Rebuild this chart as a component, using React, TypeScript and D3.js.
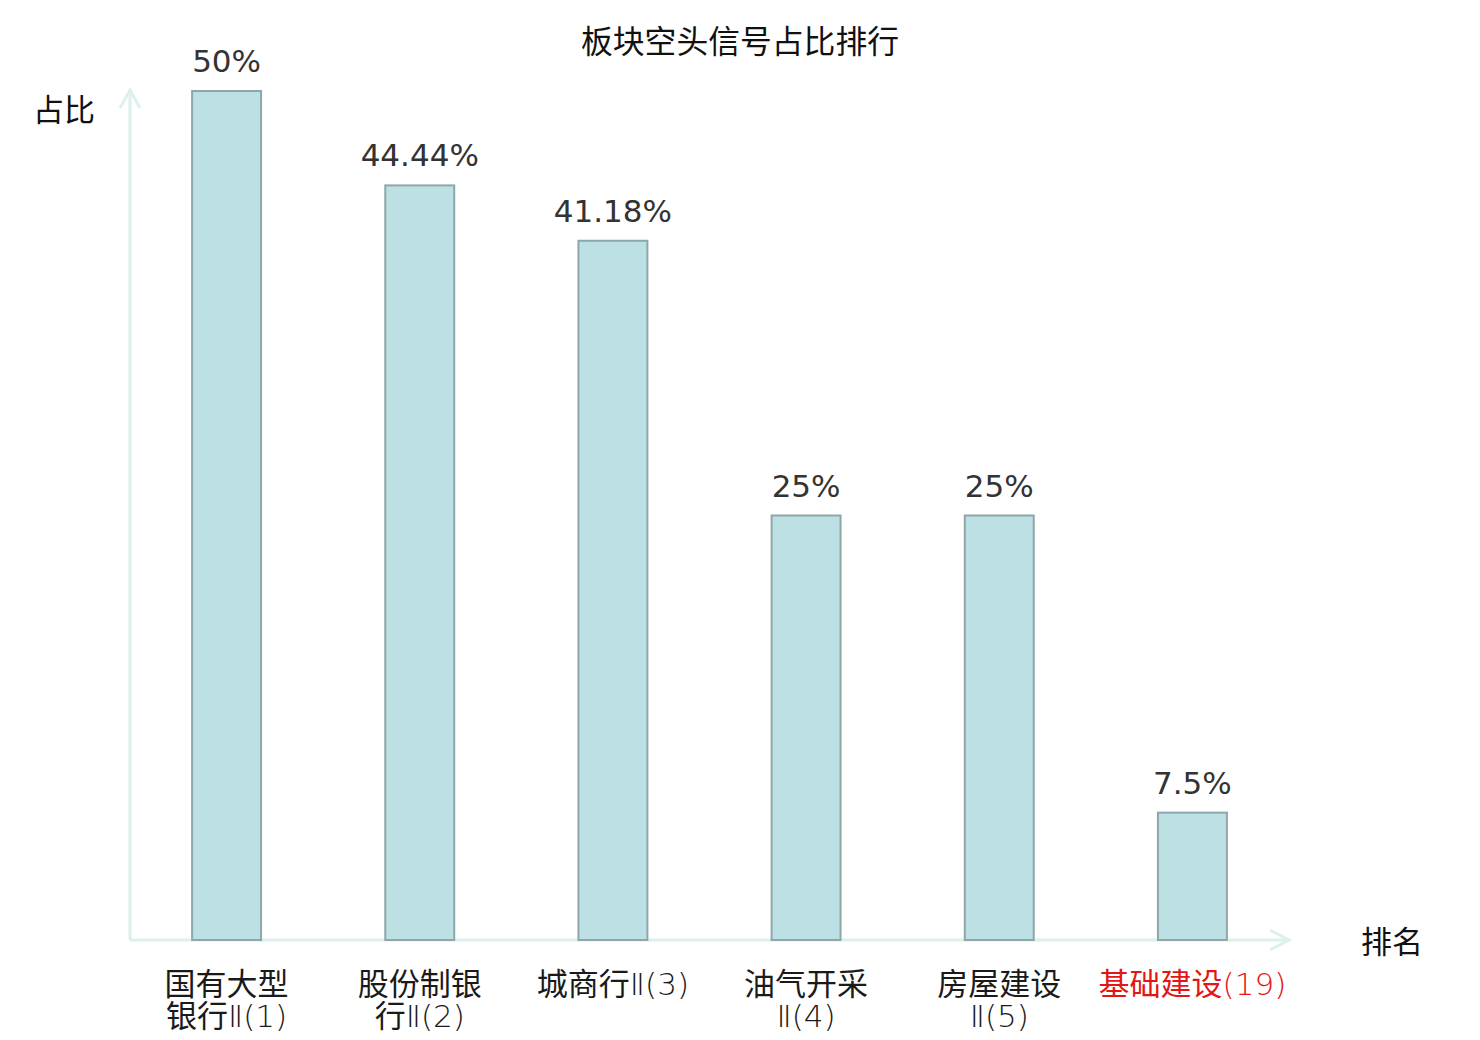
import { useEffect, useRef } from "react";
import * as d3 from "d3";

// chart data
const categories = ["国有大型银行Ⅱ(1)", "股份制银行Ⅱ(2)", "城商行Ⅱ(3)", "油气开采Ⅱ(4)", "房屋建设Ⅱ(5)", "基础建设(19)"];
const categoryLines = [
  ["国有大型", "银行Ⅱ(1)"],
  ["股份制银", "行Ⅱ(2)"],
  ["城商行Ⅱ(3)"],
  ["油气开采", "Ⅱ(4)"],
  ["房屋建设", "Ⅱ(5)"],
  ["基础建设(19)"],
];
const values = [50, 44.44, 41.18, 25, 25, 7.5];
const highlighted = ["基础建设(19)"];

const FONT = "'DejaVu Sans', 'Noto Sans CJK SC', sans-serif";
const CJK = "'Noto Sans CJK SC', sans-serif";

// split a label line into CJK / latin runs so each gets its own font
const runs = (s: string) => s.match(/[\u4e00-\u9fff]+|[^\u4e00-\u9fff]+/g) || [];

export default function App() {
  const svgRef = useRef<SVGSVGElement>(null);

  useEffect(() => {
    const svg = d3.select(svgRef.current);
    svg.selectAll("*").remove();

    const left = 130;
    const right = 1289;
    const bottom = 940;
    const top = 91;
    const axisColor = "#dcf1ee";

    const x = d3.scaleBand().domain(categories).range([left, right]).paddingInner(0).paddingOuter(0);
    const y = d3.scaleLinear().domain([0, 50]).range([bottom, top]);
    const barW = x.bandwidth() * 0.357;

    svg
      .append("text")
      .attr("x", 740)
      .attr("y", 53)
      .attr("text-anchor", "middle")
      .attr("font-family", CJK)
      .attr("font-size", 31.8)
      .attr("fill", "#111")
      .text("板块空头信号占比排行");

    // axes
    const axes = svg.append("g").attr("stroke", axisColor).attr("stroke-width", 3).attr("fill", "none");
    axes.append("line").attr("x1", left).attr("x2", left).attr("y1", bottom).attr("y2", 89);
    axes.append("polyline").attr("points", `${left - 10},108 ${left},90 ${left + 10},108`);
    axes.append("line").attr("x1", left).attr("x2", 1290).attr("y1", bottom).attr("y2", bottom);
    axes.append("polyline").attr("points", `1270,930 1289,${bottom} 1270,950`);

    svg
      .append("text")
      .attr("x", 33)
      .attr("y", 121)
      .attr("font-family", CJK)
      .attr("font-size", 31)
      .attr("fill", "#111")
      .text("占比");

    svg
      .append("text")
      .attr("x", 1361)
      .attr("y", 953)
      .attr("font-family", CJK)
      .attr("font-size", 31)
      .attr("fill", "#111")
      .text("排名");

    const cx = (c: string) => (x(c) || 0) + x.bandwidth() / 2;

    svg
      .append("g")
      .selectAll("rect")
      .data(values)
      .enter()
      .append("rect")
      .attr("x", (_, i) => cx(categories[i]) - barW / 2)
      .attr("y", (d) => y(d))
      .attr("width", barW)
      .attr("height", (d) => bottom - y(d))
      .attr("fill", "#bce0e3")
      .attr("stroke", "#8ea7a9")
      .attr("stroke-width", 2);

    svg
      .append("g")
      .selectAll("text")
      .data(values)
      .enter()
      .append("text")
      .attr("x", (_, i) => cx(categories[i]))
      .attr("y", (d) => y(d) - 19)
      .attr("text-anchor", "middle")
      .attr("font-family", FONT)
      .attr("font-size", 31)
      .attr("fill", "#333")
      .text((d) => `${d}%`);

    const labels = svg
      .append("g")
      .selectAll("text")
      .data(categories)
      .enter()
      .append("text")
      .attr("text-anchor", "middle")
      .attr("font-size", 31)
      .attr("fill", (d) => (highlighted.includes(d) ? "#e31515" : "#1a1a1a"));

    labels.each(function (cat, i) {
      const t = d3.select(this);
      categoryLines[i].forEach((line, j) => {
        const ln = t.append("tspan").attr("x", cx(cat)).attr("y", 995 + j * 32);
        runs(line).forEach((r) => {
          const isCjk = /[\u4e00-\u9fff]/.test(r);
          ln.append("tspan")
            .attr("font-family", isCjk ? CJK : FONT)
            .attr("font-weight", isCjk ? 400 : 200)
            .text(r);
        });
      });
    });
  }, []);

  return (
    <svg
      ref={svgRef}
      width={1480}
      height={1040}
      style={{ position: "absolute", left: 0, top: 0, background: "#fff" }}
    />
  );
}
